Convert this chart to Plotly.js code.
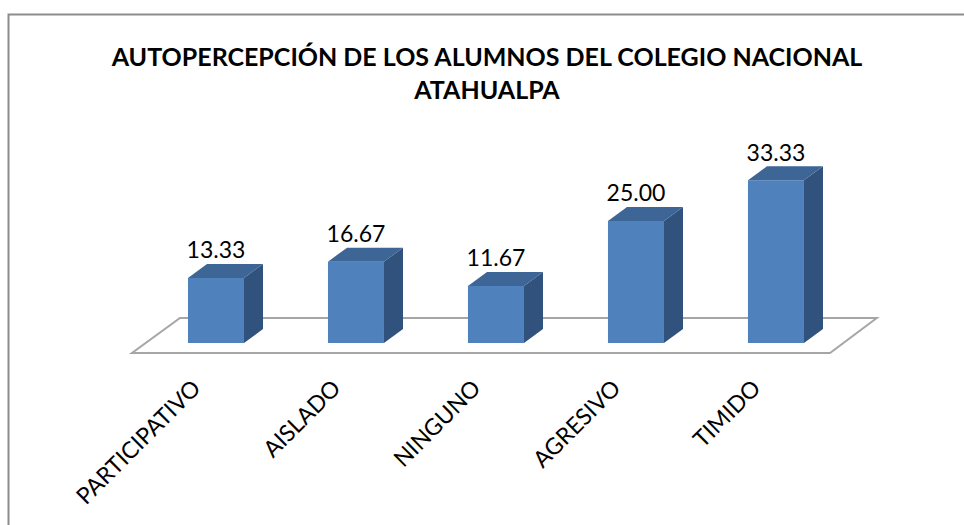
<!DOCTYPE html>
<html>
<head>
<meta charset="utf-8">
<script src="https://cdn.plot.ly/plotly-3.0.1.min.js"></script>
<style>html,body{margin:0;padding:0;background:#fff;}#chart{width:964px;height:525px;}</style>
</head>
<body>
<div id="chart"></div>
<script>
// ---- data ----
const categories = ["PARTICIPATIVO", "AISLADO", "NINGUNO", "AGRESIVO", "TIMIDO"];
const values = [13.33, 16.67, 11.67, 25.00, 33.33];
const valueLabels = ["13.33", "16.67", "11.67", "25.00", "33.33"];
const chartTitle = "AUTOPERCEPCIÓN DE LOS ALUMNOS DEL COLEGIO NACIONAL<br>ATAHUALPA";

// ---- style / geometry ----
const W = 964, H = 525;
const M = {l: 110, r: 64, t: 120, b: 165};
const xRange = [-0.757, 4.886];
const yRange = [-3.484, 45.697];
const barW = 0.4;
const dX = 0.136;   // depth offset (x units)
const dY = 2.87;    // depth offset (y units)
const cFront = "#4f81bd", cTop = "#3d6596", cSide = "#31527c";

const xs = categories.map((_, i) => i);
const shapes = [];

// floor
const n = categories.length;
const fy0 = -2.05, fy1 = 5.12;
const fl0 = -0.6, fr0 = (n - 1) + 0.386, fl1 = -0.257, fr1 = (n - 1) + 0.72;
shapes.push({type: "path", xref: "x", yref: "y", layer: "below",
  path: `M${fl0},${fy0} L${fr0},${fy0} L${fr1},${fy1} L${fl1},${fy1} Z`,
  line: {color: "#a6a6a6", width: 2}, fillcolor: "rgba(255,255,255,0)"});

// bar side and top faces
values.forEach((v, i) => {
  const x0 = i - barW / 2, x1 = i + barW / 2;
  shapes.push({type: "path", xref: "x", yref: "y", layer: "above",
    path: `M${x1},0 L${x1 + dX},${dY} L${x1 + dX},${v + dY} L${x1},${v} Z`,
    line: {width: 0}, fillcolor: cSide});
  shapes.push({type: "path", xref: "x", yref: "y", layer: "above",
    path: `M${x0},${v} L${x1},${v} L${x1 + dX},${v + dY} L${x0 + dX},${v + dY} Z`,
    line: {width: 0}, fillcolor: cTop});
});

// outer border (paper coords from pixels)
const pw = W - M.l - M.r, ph = H - M.t - M.b;
const px = p => (p - M.l) / pw;
const py = p => (H - M.b - p) / ph;
shapes.push({type: "path", xref: "paper", yref: "paper", layer: "above",
  path: `M${px(8.5)},${py(530)} L${px(8.5)},${py(14.5)} L${px(970)},${py(14.5)}`,
  line: {color: "#8c8c8c", width: 2}});

const traces = [
  {type: "bar", x: xs, y: values, width: barW, marker: {color: cFront, line: {width: 0}},
   hoverinfo: "skip", showlegend: false},
  {type: "scatter", mode: "text", x: xs, y: values.map(v => v + dY), text: valueLabels,
   textposition: "top center", textfont: {family: "Lato", size: 23, color: "#000"},
   hoverinfo: "skip", showlegend: false, cliponaxis: false}
];

const layout = {
  width: W, height: H,
  margin: M,
  paper_bgcolor: "#fff", plot_bgcolor: "rgba(0,0,0,0)",
  title: {text: chartTitle, font: {family: "Lato", size: 25, color: "#000", weight: "bold"},
    x: 487 / W, xanchor: "center", xref: "container", y: 1 - 66 / H, yanchor: "middle", yref: "container"},
  xaxis: {range: xRange, tickvals: xs, ticktext: categories, tickangle: -45,
    showgrid: false, zeroline: false, showline: false, ticks: "",
    tickfont: {family: "Lato", size: 23, color: "#000"},
    ticklabelshift: -22, ticklabelstandoff: 9, fixedrange: true},
  yaxis: {range: yRange, visible: false, showgrid: false, zeroline: false, fixedrange: true},
  shapes: shapes,
  showlegend: false
};

Plotly.newPlot("chart", traces, layout, {displayModeBar: false, staticPlot: true});
</script>
</body>
</html>
